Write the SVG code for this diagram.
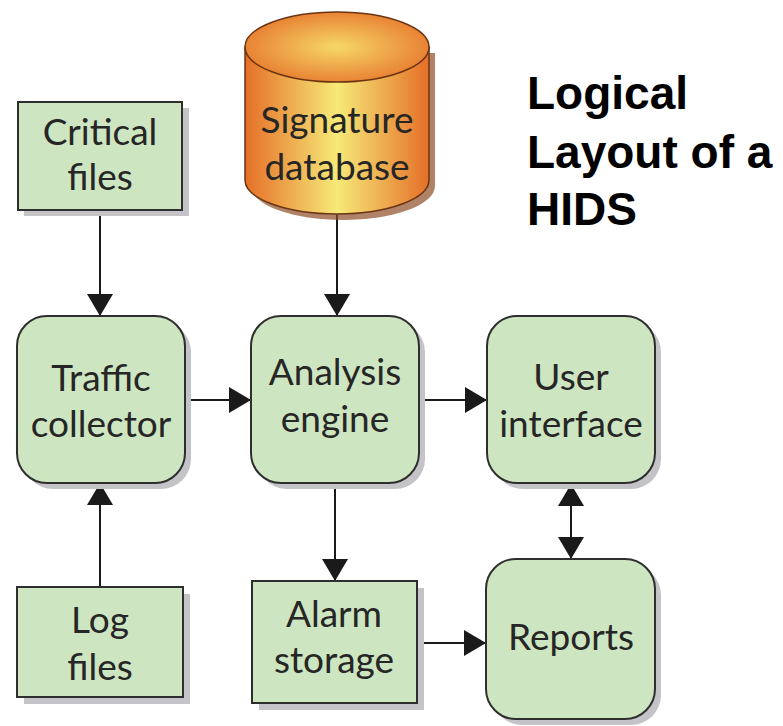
<svg xmlns="http://www.w3.org/2000/svg" width="783" height="726" viewBox="0 0 783 726">
<defs>
<style>
.box{fill:#cde5c0;stroke:#2e2e2e;stroke-width:2}
.shadow{fill:#c4c4c8}
.lbl{font-family:Lato,"Noto Sans",sans-serif;font-size:37px;fill:#262626;text-anchor:middle}
.title{font-family:"Liberation Sans",Arial,sans-serif;font-size:46px;font-weight:bold;fill:#000}
.conn{stroke:#1a1a1a;stroke-width:2;fill:none}
</style>
<marker id="ah" markerUnits="userSpaceOnUse" markerWidth="22" markerHeight="26" refX="22" refY="13" orient="auto-start-reverse" viewBox="0 0 22 26">
<path d="M0,0 L22,13 L0,26 z" fill="#1a1a1a"/>
</marker>
<linearGradient id="cylBody" x1="0" y1="0" x2="1" y2="0">
<stop offset="0" stop-color="#e56f28"/>
<stop offset="0.5" stop-color="#f6ea78"/>
<stop offset="1" stop-color="#e56f28"/>
</linearGradient>
<radialGradient id="cylTop" cx="0.5" cy="0.5" r="0.6">
<stop offset="0" stop-color="#f6d867"/>
<stop offset="1" stop-color="#e6722a"/>
</radialGradient>
</defs>
<rect width="783" height="726" fill="#fff"/>

<g id="title">
<text class="title" x="527" y="109">Logical</text>
<text class="title" x="527" y="168">Layout of a</text>
<text class="title" x="527" y="225">HIDS</text>
</g>

<g id="connectors">
<line class="conn" x1="100" y1="210" x2="100" y2="316" marker-end="url(#ah)"/>
<line class="conn" x1="100" y1="588" x2="100" y2="483" marker-end="url(#ah)"/>
<line class="conn" x1="337" y1="214" x2="337" y2="316" marker-end="url(#ah)"/>
<line class="conn" x1="185" y1="400" x2="251" y2="400" marker-end="url(#ah)"/>
<line class="conn" x1="419" y1="400" x2="487" y2="400" marker-end="url(#ah)"/>
<line class="conn" x1="335" y1="483" x2="335" y2="581" marker-end="url(#ah)"/>
<line class="conn" x1="417" y1="643" x2="486" y2="643" marker-end="url(#ah)"/>
<line class="conn" x1="571" y1="484" x2="571" y2="559" marker-start="url(#ah)" marker-end="url(#ah)"/>
</g>

<g id="signature-database">
<path d="M251,53 L251,186 A92,34 0 0 0 435,186 L435,53 Z" fill="#8e4e2a" opacity="0.7"/>
<path d="M245,47 L245,180 A92,34 0 0 0 429,180 L429,47 Z" fill="url(#cylBody)" stroke="#6b3412" stroke-width="1.5"/>
<ellipse cx="337" cy="47" rx="92" ry="35" fill="url(#cylTop)" stroke="#6b3412" stroke-width="1.5"/>
<text class="lbl" x="337" y="133">Signature</text>
<text class="lbl" x="337" y="180">database</text>
</g>

<g id="critical-files">
<rect class="shadow" x="24" y="108" width="165" height="108"/>
<rect class="box" x="18" y="102" width="164" height="108"/>
<text class="lbl" x="100" y="145">Critical</text>
<text class="lbl" x="100" y="190">files</text>
</g>

<g id="traffic-collector">
<rect class="shadow" x="23" y="322" width="168" height="167" rx="30"/>
<rect class="box" x="17" y="316" width="168" height="167" rx="30"/>
<text class="lbl" x="101" y="391">Traffic</text>
<text class="lbl" x="101" y="437">collector</text>
</g>

<g id="analysis-engine">
<rect class="shadow" x="257" y="322" width="168" height="167" rx="30"/>
<rect class="box" x="251" y="316" width="168" height="167" rx="30"/>
<text class="lbl" x="335" y="385">Analysis</text>
<text class="lbl" x="335" y="432">engine</text>
</g>

<g id="user-interface">
<rect class="shadow" x="493" y="322" width="168" height="167" rx="30"/>
<rect class="box" x="487" y="316" width="168" height="167" rx="30"/>
<text class="lbl" x="571" y="390">User</text>
<text class="lbl" x="571" y="437">interface</text>
</g>

<g id="log-files">
<rect class="shadow" x="24" y="594" width="166" height="110"/>
<rect class="box" x="17" y="587" width="166" height="110"/>
<text class="lbl" x="100" y="633">Log</text>
<text class="lbl" x="100" y="680">files</text>
</g>

<g id="alarm-storage">
<rect class="shadow" x="259" y="588" width="165" height="122"/>
<rect class="box" x="252" y="581" width="165" height="122"/>
<text class="lbl" x="334" y="627">Alarm</text>
<text class="lbl" x="334" y="673">storage</text>
</g>

<g id="reports">
<rect class="shadow" x="492" y="565" width="169" height="160" rx="30"/>
<rect class="box" x="486" y="559" width="169" height="160" rx="30"/>
<text class="lbl" x="571" y="650">Reports</text>
</g>
</svg>
